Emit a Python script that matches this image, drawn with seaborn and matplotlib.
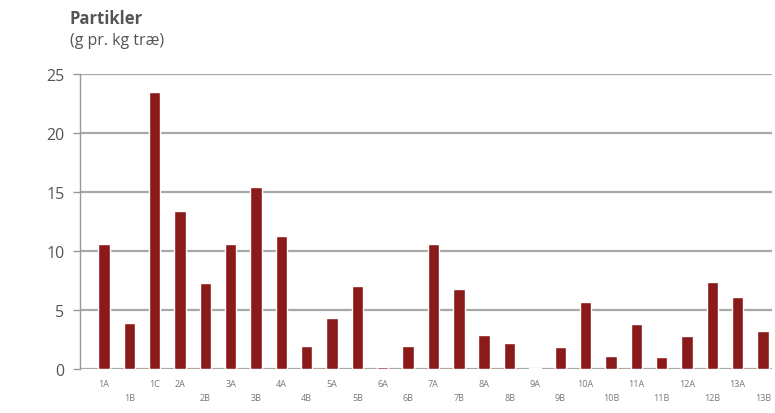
import matplotlib
matplotlib.use("Agg")
import matplotlib.pyplot as plt
import seaborn as sns

# Data
kategorier = ["1A", "1B", "1C", "2A", "2B", "3A", "3B", "4A", "4B", "5A", "5B",
              "6A", "6B", "7A", "7B", "8A", "8B", "9A", "9B", "10A", "10B",
              "11A", "11B", "12A", "12B", "13A", "13B"]
partikler = [10.6, 3.9, 23.5, 13.4, 7.3, 10.6, 15.4, 11.3, 2.0, 4.3, 7.0,
             0.2, 2.0, 10.6, 6.8, 2.9, 2.2, 0.1, 1.9, 5.7, 1.1,
             3.8, 1.0, 2.8, 7.4, 6.1, 3.2]
y_ticks = [0, 5, 10, 15, 20, 25]

sns.set_theme(style="white")
plt.rcParams['font.family'] = ['Open Sans', 'DejaVu Sans']

fig = plt.figure(figsize=(7.75, 4.14), dpi=100)
ax = fig.add_axes([0.103, 0.106, 0.893, 0.713])

sns.barplot(x=kategorier, y=partikler, color="#8b1a1a", saturation=1,
            width=0.45, ax=ax)

ax.set_xlim(-0.95, 26.35)
ax.set_ylim(0, 25)
ax.set_yticks(y_ticks)
ax.set_yticklabels([str(v) for v in y_ticks], fontsize=11.5, color="#555555")

# B-etiketter på anden linje
labels = [("\n" + k) if k.endswith("B") else k for k in kategorier]
ax.set_xticks(range(len(kategorier)))
ax.set_xticklabels(labels, fontsize=6.5, color="#777777", linespacing=1.7)
ax.tick_params(axis="x", length=0, pad=7)
ax.tick_params(axis="y", length=5, width=1, color="#999999", left=True, pad=6)

for v in y_ticks:
    ax.axhline(v, color="#a8a8a8", linewidth=1.6, zorder=0)

for side in ["top", "right", "bottom"]:
    ax.spines[side].set_visible(False)
ax.spines["left"].set_color("#999999")
ax.spines["left"].set_linewidth(1)
ax.set_xlabel("")
ax.set_ylabel("")

fig.text(0.09, 0.955, "Partikler", fontsize=12, fontweight="bold",
         color="#555555", va="center")
fig.text(0.09, 0.9, "(g pr. kg træ)", fontsize=11.5, color="#555555",
         va="center")

plt.savefig("out.png", dpi=100)
plt.close()
